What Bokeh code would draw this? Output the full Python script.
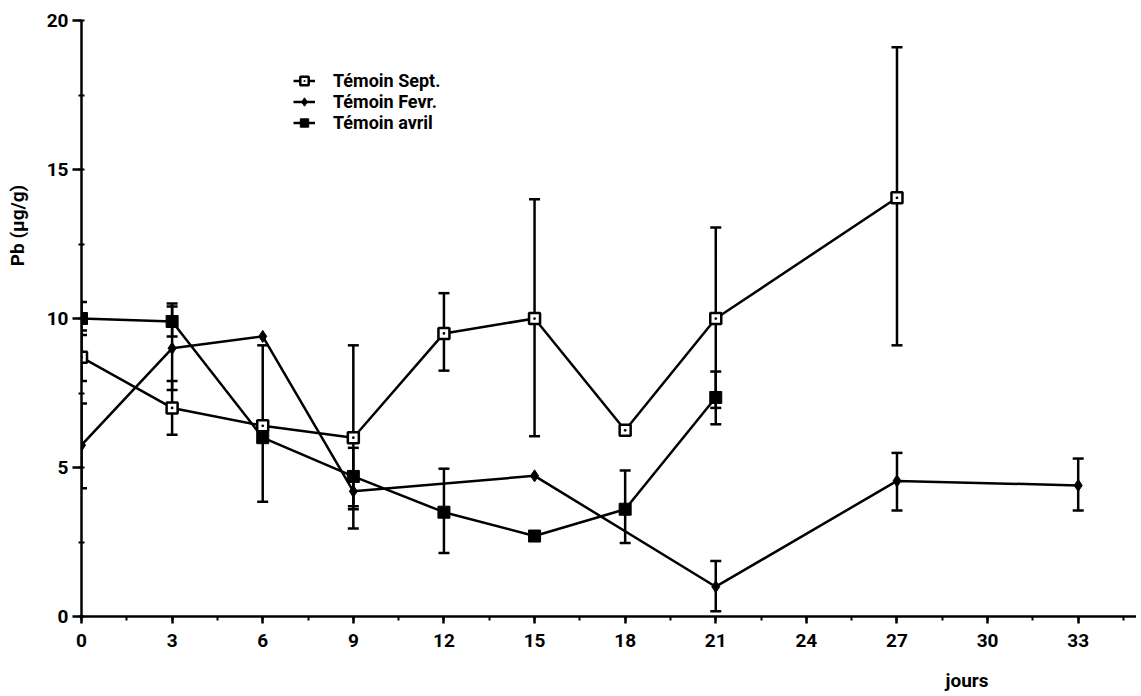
from bokeh.plotting import figure
from bokeh.models import (ColumnDataSource, Whisker, TeeHead, Legend, LegendItem,
                          SingleIntervalTicker, Label, Range1d)
from bokeh.embed import file_html
from bokeh.resources import INLINE
import math

# ---- data ----
sept_days = [0, 3, 6, 9, 12, 15, 18, 21, 27]
sept_vals = [8.7, 7.0, 6.4, 6.0, 9.5, 10.0, 6.25, 10.0, 14.05]
sept_err_days = [0, 3, 6, 9, 12, 15, 21, 27]
sept_lo = [7.9, 6.1, 3.85, 2.95, 8.25, 6.05, 7.0, 9.1]
sept_hi = [9.6, 7.9, 9.1, 9.1, 10.85, 14.0, 13.05, 19.1]

fevr_days = [0, 3, 6, 9, 15, 21, 27, 33]
fevr_vals = [5.75, 9.0, 9.4, 4.2, 4.72, 1.0, 4.55, 4.4]
fevr_err_days = [0, 3, 9, 21, 27, 33]
fevr_lo = [4.3, 7.6, 3.6, 0.18, 3.56, 3.56]
fevr_hi = [7.15, 10.4, 4.75, 1.86, 5.49, 5.3]

avril_days = [0, 3, 6, 9, 12, 15, 18, 21]
avril_vals = [10.0, 9.9, 6.0, 4.7, 3.5, 2.7, 3.6, 7.35]
avril_err_days = [0, 3, 9, 12, 18, 21]
avril_lo = [9.45, 9.4, 3.7, 2.13, 2.47, 6.45]
avril_hi = [10.55, 10.5, 5.66, 4.96, 4.9, 8.22]

labels = ["Témoin Sept.", "Témoin Fevr.", "Témoin avril"]
x_title = "jours"
y_title = "Pb (µg/g)"

FONT = "Roboto"
LW = 2.5

p = figure(width=1136, height=696, output_backend="svg", toolbar_location=None,
           x_range=Range1d(0, 34.93), y_range=Range1d(0, 20),
           min_border_left=81, min_border_top=20, min_border_bottom=80, min_border_right=0)
p.outline_line_color = None
p.xgrid.visible = False
p.ygrid.visible = False
p.background_fill_color = "white"

# axes
p.xaxis.ticker = SingleIntervalTicker(interval=3, num_minor_ticks=2)
p.yaxis.ticker = SingleIntervalTicker(interval=5, num_minor_ticks=2)
for ax in (p.xaxis[0], p.yaxis[0]):
    ax.axis_line_width = LW
    ax.axis_line_color = "black"
    ax.major_tick_line_width = LW
    ax.minor_tick_line_width = 2
    ax.major_tick_line_color = "black"
    ax.minor_tick_line_color = "black"
    ax.major_label_text_font = FONT
    ax.major_label_text_font_style = "bold"
    ax.major_label_text_font_size = "19px"
    ax.major_label_text_color = "black"
p.xaxis.major_tick_in = 0
p.xaxis.major_tick_out = 7
p.xaxis.minor_tick_in = 0
p.xaxis.minor_tick_out = 4
p.xaxis.major_label_standoff = 10
p.yaxis.major_tick_in = 0
p.yaxis.major_tick_out = 9
p.yaxis.minor_tick_in = 3
p.yaxis.minor_tick_out = 3
p.yaxis.major_label_standoff = 4

def whiskers(days, lo, hi):
    src = ColumnDataSource(dict(base=days, lower=lo, upper=hi))
    w = Whisker(source=src, base="base", lower="lower", upper="upper",
                line_color="black", line_width=LW,
                upper_head=TeeHead(size=11, line_width=LW, line_color="black"),
                lower_head=TeeHead(size=11, line_width=LW, line_color="black"))
    p.add_layout(w)

whiskers(sept_err_days, sept_lo, sept_hi)
whiskers(fevr_err_days, fevr_lo, fevr_hi)
whiskers(avril_err_days, avril_lo, avril_hi)

l1 = p.line(sept_days, sept_vals, line_color="black", line_width=LW)
m1 = p.scatter(sept_days, sept_vals, marker="square_dot", size=11,
               fill_color="white", line_color="black", line_width=2.5)
l2 = p.line(fevr_days, fevr_vals, line_color="black", line_width=LW)
m2 = p.scatter(fevr_days, fevr_vals, marker="diamond", size=12,
               fill_color="black", line_color="black", line_width=1)
l3 = p.line(avril_days, avril_vals, line_color="black", line_width=LW)
m3 = p.scatter(avril_days, avril_vals, marker="square", size=12,
               fill_color="black", line_color="black", line_width=1)

legend = Legend(items=[LegendItem(label=labels[0], renderers=[l1, m1]),
                       LegendItem(label=labels[1], renderers=[l2, m2]),
                       LegendItem(label=labels[2], renderers=[l3, m3])],
                location=(212, 483), glyph_width=22, glyph_height=21,
                label_height=21, label_standoff=18, spacing=0, padding=0, margin=0,
                border_line_color=None, background_fill_alpha=0,
                label_text_font=FONT, label_text_font_style="bold",
                label_text_font_size="18px", label_text_color="black")
p.add_layout(legend, "center")

p.add_layout(Label(x=864, y=-8, x_units="screen", y_units="screen", text=x_title,
                   text_font=FONT, text_font_style="bold", text_font_size="19px",
                   text_align="left", text_baseline="middle", text_color="black"),
             "below")
p.add_layout(Label(x=-3, y=391, x_units="screen", y_units="screen", text=y_title,
                   angle=math.pi / 2, text_font=FONT, text_font_style="bold",
                   text_font_size="19px", text_align="center", text_baseline="middle",
                   text_color="black"), "left")

open("out.html", "w").write(file_html(p, INLINE))
